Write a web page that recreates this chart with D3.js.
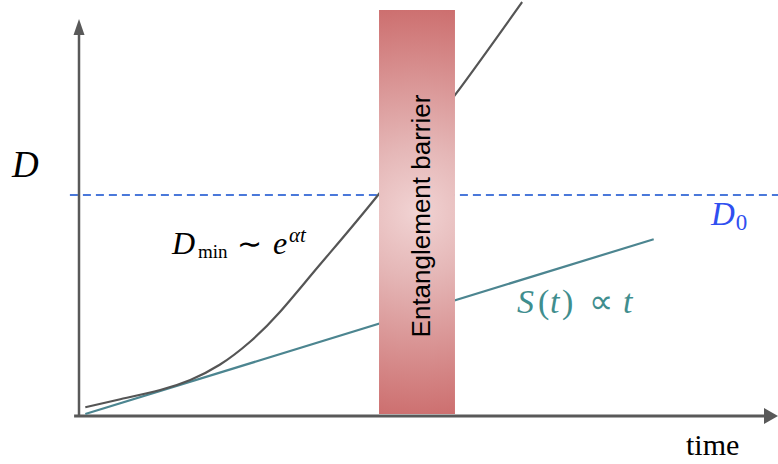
<!DOCTYPE html>
<html>
<head>
<meta charset="utf-8">
<script src="https://cdn.jsdelivr.net/npm/d3@7"></script>
<style>
  html, body { margin: 0; padding: 0; background: #ffffff; }
  svg { display: block; }
</style>
</head>
<body>
<svg id="chart" width="778" height="464"></svg>
<script>
// Minimal bond dimension D_min grows like e^{alpha t}; entanglement S(t) grows linearly.
const dminTime = [0.09, 0.59, 1.16, 1.59, 2.01, 2.44, 2.87, 3.44, 4.27, 5.37, 6.33];
const dminValue = [0.22, 0.42, 0.65, 0.90, 1.28, 1.85, 2.60, 3.78, 5.52, 8.02, 10.35];

const entropyTime = [0.09, 8.21];
const entropyValue = [0.05, 4.42];

const d0Level = 5.525;
const d0Span = [-0.13, 9.99];

const barrierTime = [4.286, 5.371];
const barrierValue = [0.05, 10.15];

const axisTimeSpan = [-0.07, 9.986];
const axisValueTop = 9.925;

const labels = {
  yAxis: "D",
  xAxis: "time",
  barrier: "Entanglement barrier"
};

const svg = d3.select("#chart");

const x = d3.scaleLinear().domain([0, 10]).range([79, 779]);
const y = d3.scaleLinear().domain([0, 10]).range([416, 16]);

// Barrier band with a soft glow in the middle
const defs = svg.append("defs");
const grad = defs.append("radialGradient")
  .attr("id", "barrierGlow")
  .attr("gradientUnits", "userSpaceOnUse")
  .attr("cx", (x(barrierTime[0]) + x(barrierTime[1])) / 2)
  .attr("cy", y(5.1))
  .attr("r", 215);
grad.append("stop").attr("offset", 0).attr("stop-color", "#f1d3d3");
grad.append("stop").attr("offset", 0.3).attr("stop-color", "#e5b7b7");
grad.append("stop").attr("offset", 0.75).attr("stop-color", "#d48585");
grad.append("stop").attr("offset", 1).attr("stop-color", "#cb6a6a");

// Threshold D_0
svg.append("line")
  .attr("x1", x(d0Span[0])).attr("x2", x(d0Span[1]))
  .attr("y1", y(d0Level)).attr("y2", y(d0Level))
  .attr("stroke", "#4a78da")
  .attr("stroke-width", 2)
  .attr("stroke-dasharray", "8,5");

// Axes with arrowheads
const axisColor = "#595959";
const x0 = x(axisTimeSpan[0]), x1 = x(axisTimeSpan[1]);
const yBase = y(0), yTop = y(axisValueTop);
const yAxisX = x(0);

svg.append("line")
  .attr("x1", yAxisX).attr("x2", yAxisX)
  .attr("y1", yBase).attr("y2", yTop + 14)
  .attr("stroke", axisColor).attr("stroke-width", 2.5);
svg.append("path")
  .attr("d", `M${yAxisX},${yTop} L${yAxisX - 5.5},${yTop + 16} L${yAxisX + 5.5},${yTop + 16} Z`)
  .attr("fill", axisColor);

svg.append("line")
  .attr("x1", x0).attr("x2", x1 - 12)
  .attr("y1", yBase).attr("y2", yBase)
  .attr("stroke", axisColor).attr("stroke-width", 3);
svg.append("path")
  .attr("d", `M${x1},${yBase} L${x1 - 14},${yBase - 8} L${x1 - 14},${yBase + 8} Z`)
  .attr("fill", axisColor);

// Curves
const line = d3.line()
  .x(d => x(d[0]))
  .y(d => y(d[1]));

svg.append("path")
  .datum(entropyTime.map((t, i) => [t, entropyValue[i]]))
  .attr("d", line)
  .attr("fill", "none")
  .attr("stroke", "#4c8590")
  .attr("stroke-width", 2.2);

svg.append("path")
  .datum(dminTime.map((t, i) => [t, dminValue[i]]))
  .attr("d", line.curve(d3.curveNatural))
  .attr("fill", "none")
  .attr("stroke", "#555555")
  .attr("stroke-width", 2.2);

// The barrier sits on top of the curves that pass behind it
svg.append("rect")
  .attr("x", x(barrierTime[0]))
  .attr("y", y(barrierValue[1]))
  .attr("width", x(barrierTime[1]) - x(barrierTime[0]))
  .attr("height", y(barrierValue[0]) - y(barrierValue[1]))
  .attr("fill", "url(#barrierGlow)");

svg.append("text")
  .attr("transform", `translate(${(x(barrierTime[0]) + x(barrierTime[1])) / 2 + 13},${y(5.0)}) rotate(-90)`)
  .attr("text-anchor", "middle")
  .attr("font-family", "'Liberation Sans', Arial, sans-serif")
  .attr("font-size", 26)
  .attr("fill", "#000")
  .text(labels.barrier);

// Math labels
const serif = "'Liberation Serif', 'Times New Roman', serif";

svg.append("text")
  .attr("x", 12).attr("y", 177)
  .attr("font-family", serif).attr("font-style", "italic")
  .attr("font-size", 37)
  .text(labels.yAxis);

svg.append("text")
  .attr("x", 686).attr("y", 455)
  .attr("font-family", serif)
  .attr("font-size", 30)
  .text(labels.xAxis);

const dmin = svg.append("text")
  .attr("y", 254)
  .attr("font-family", serif)
  .attr("fill", "#000");
dmin.append("tspan").attr("x", 172).attr("font-style", "italic").attr("font-size", 32).text("D");
dmin.append("tspan").attr("x", 198).attr("dy", 4).attr("font-size", 19).text("min");
dmin.append("tspan").attr("x", 237).attr("dy", -4).attr("font-size", 30).text("∼");
dmin.append("tspan").attr("x", 273).attr("font-style", "italic").attr("font-size", 32).text("e");
dmin.append("tspan").attr("x", 289).attr("dy", -12).attr("font-style", "italic").attr("font-size", 21).text("αt");

const d0 = svg.append("text")
  .attr("x", 711).attr("y", 225)
  .attr("font-family", serif)
  .attr("font-size", 33)
  .attr("fill", "#2f4ff0");
d0.append("tspan").attr("font-style", "italic").text("D");
d0.append("tspan").attr("font-size", 23).attr("dy", 5).attr("dx", 1).text("0");

const st = svg.append("text")
  .attr("y", 313)
  .attr("font-family", serif)
  .attr("font-size", 34)
  .attr("fill", "#3f8e8e");
st.append("tspan").attr("x", 517).attr("font-style", "italic").text("S");
st.append("tspan").attr("x", 538).text("(");
st.append("tspan").attr("x", 550).attr("font-style", "italic").text("t");
st.append("tspan").attr("x", 562).text(")");
st.append("tspan").attr("x", 589).text("∝");
st.append("tspan").attr("x", 623).attr("font-style", "italic").text("t");
</script>
</body>
</html>
